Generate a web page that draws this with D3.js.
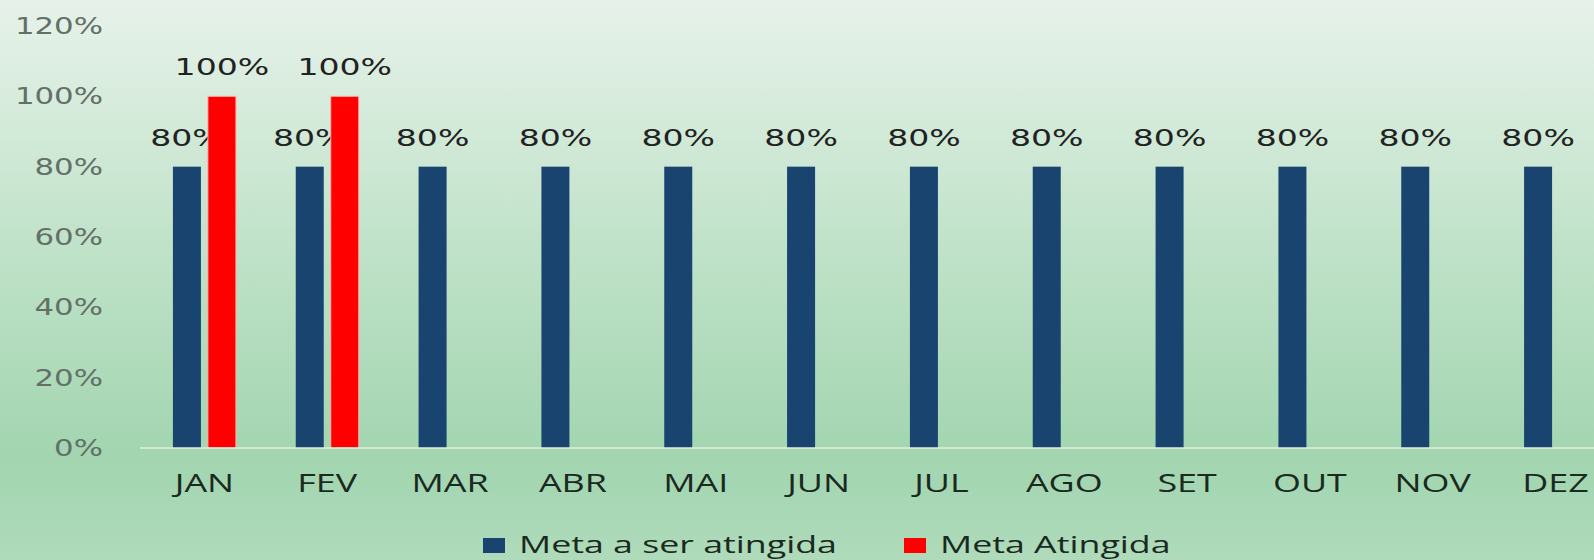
<html>
<head>
	<script src="https://d3js.org/d3.v7.min.js"></script>
</head>
<body style="margin:0; padding:0; overflow:hidden;">
	<script>
	// chart data
	var months = ["JAN", "FEV", "MAR", "ABR", "MAI", "JUN", "JUL", "AGO", "SET", "OUT", "NOV", "DEZ"];
	var seriesNames = ["Meta a ser atingida", "Meta Atingida"];
	var metaValues = [0.8, 0.8, 0.8, 0.8, 0.8, 0.8, 0.8, 0.8, 0.8, 0.8, 0.8, 0.8];
	var atingidaValues = [1.0, 1.0, null, null, null, null, null, null, null, null, null, null];
	var yTicks = [0, 0.2, 0.4, 0.6, 0.8, 1.0, 1.2];
	var colors = ["#1a4470", "#ff0000"];

	var width = 1594;
	var height = 560;

	// the picture is stretched sideways, so text gets stretched too
	var stretchPct = 1.34;
	var stretchLabel = 1.44;
	var stretchMonth = 1.38;
	var stretchLegend = 1.49;

	var svg = d3.select("body").append("svg")
		.attr("width", width)
		.attr("height", height);

	// background gradient
	var grad = svg.append("defs").append("linearGradient")
		.attr("id", "bg").attr("x1", 0).attr("y1", 0).attr("x2", 0).attr("y2", 1);
	grad.append("stop").attr("offset", "0%").attr("stop-color", "#e7f2ea");
	grad.append("stop").attr("offset", "45%").attr("stop-color", "#bfe2c8");
	grad.append("stop").attr("offset", "82%").attr("stop-color", "#a2d5b0");
	grad.append("stop").attr("offset", "100%").attr("stop-color", "#afdbbb");
	svg.append("rect").attr("width", width).attr("height", height).attr("fill", "url(#bg)");

	var x = d3.scaleBand().domain(months).range([143, 1617]).padding(0);
	var xSub = d3.scaleBand().domain(seriesNames).range([-31.5, 31.5]).paddingInner(0.2);
	var y = d3.scaleLinear().domain([0, 1.2]).range([448, 26]);

	var fmt = function(v) { return Math.round(v * 100) + "%"; };

	// y axis labels only
	var yAxis = svg.append("g")
		.attr("transform", "translate(103,0)")
		.call(d3.axisLeft(y).tickValues(yTicks).tickFormat(fmt).tickSize(0).tickPadding(0));
	yAxis.select(".domain").remove();
	yAxis.selectAll("text")
		.attr("font-family", "DejaVu Sans")
		.attr("font-size", 23)
		.attr("fill", "#637068")
		.attr("transform", "scale(" + stretchPct + ",1)");

	// bars
	var series = [metaValues, atingidaValues];
	series.forEach(function(vals, s) {
		var data = months.map(function(m, i) { return {month: m, value: vals[i]}; })
			.filter(function(d) { return d.value != null; });
		var g = svg.append("g");
		g.selectAll("rect").data(data).enter().append("rect")
			.attr("x", function(d) { return x(d.month) + x.bandwidth() / 2 + xSub(seriesNames[s]); })
			.attr("y", function(d) { return y(d.value); })
			.attr("width", xSub.bandwidth())
			.attr("height", function(d) { return y(0) - y(d.value); })
			.attr("fill", colors[s])
			.attr("stroke", s == 1 ? "#f6b3a8" : "none")
			.attr("stroke-width", s == 1 ? 1 : 0);
		g.selectAll("text").data(data).enter().append("text")
			.attr("transform", function(d) {
				var cx = x(d.month) + x.bandwidth() / 2 + xSub(seriesNames[s]) + xSub.bandwidth() / 2;
				return "translate(" + cx + "," + (y(d.value) - 21) + ") scale(" + stretchLabel + ",1)";
			})
			.attr("text-anchor", "middle")
			.attr("font-family", "DejaVu Sans")
			.attr("font-size", 23)
			.attr("fill", "#222222")
			.text(function(d) { return fmt(d.value); });
	});

	// x axis
	var xAxis = svg.append("g")
		.attr("transform", "translate(0," + y(0) + ")")
		.call(d3.axisBottom(x).tickSize(0).tickPadding(26));
	xAxis.select(".domain").remove();
	xAxis.selectAll("text")
		.attr("font-family", "Open Sans")
		.attr("font-size", 26)
		.attr("fill", "#1b2a20")
		.attr("transform", "scale(" + stretchMonth + ",1)");
	svg.append("line")
		.attr("x1", 140).attr("x2", width)
		.attr("y1", y(0)).attr("y2", y(0))
		.attr("stroke", "#dcefe0").attr("stroke-width", 1.5);

	// legend
	var legendX = [483, 904];
	var legend = svg.append("g");
	seriesNames.forEach(function(name, i) {
		legend.append("rect")
			.attr("x", legendX[i]).attr("y", 538)
			.attr("width", 22).attr("height", 15)
			.attr("fill", colors[i]);
		legend.append("text")
			.attr("transform", "translate(" + (legendX[i] + 36) + ",553) scale(" + stretchLegend + ",1)")
			.attr("font-family", "Open Sans")
			.attr("font-size", 24)
			.attr("fill", "#1b2a20")
			.text(name);
	});
	</script>
</body>
</html>
